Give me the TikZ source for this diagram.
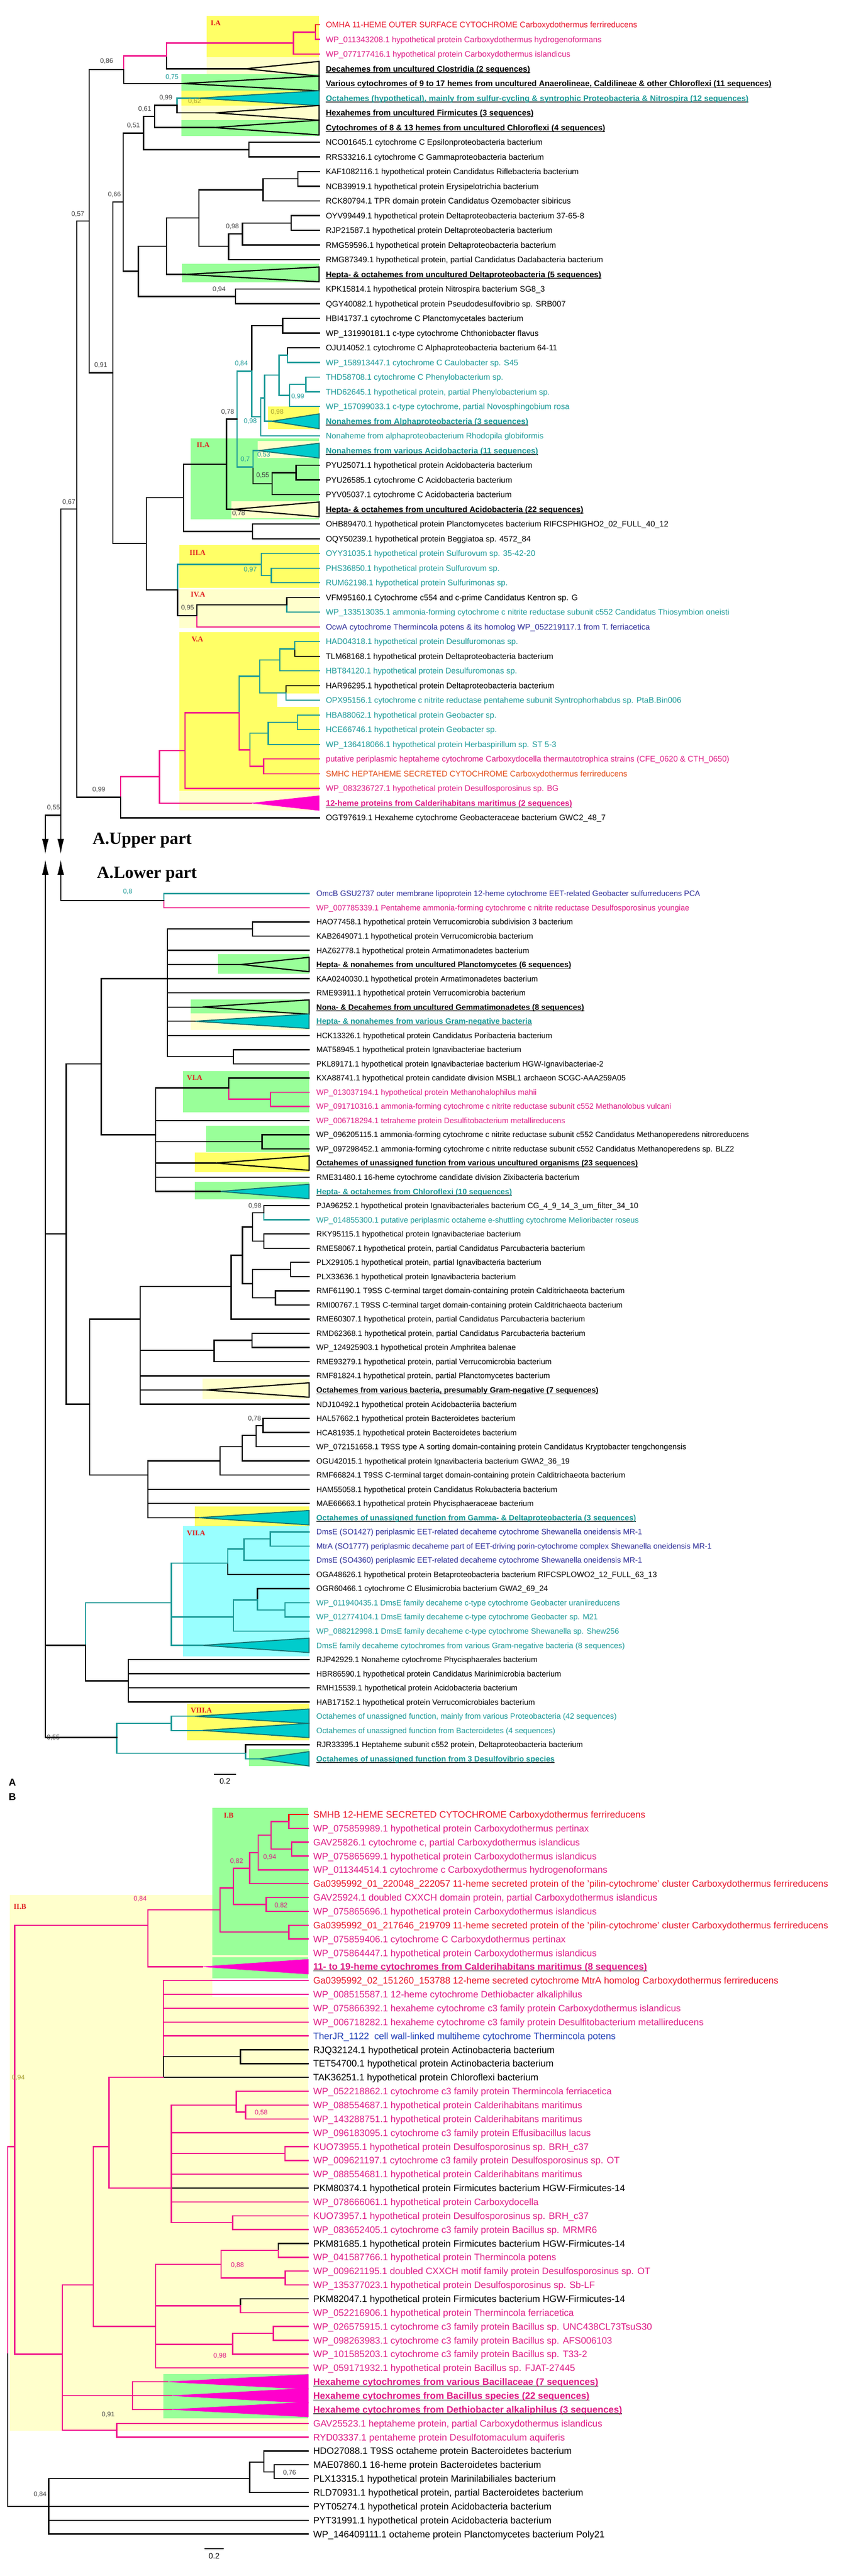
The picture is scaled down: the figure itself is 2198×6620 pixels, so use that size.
\documentclass[tikz,border=0pt]{standalone}
\usepackage{fontspec}
\usetikzlibrary{arrows.meta}
\setmainfont{Liberation Sans}
\newfontfamily\grpfont{Liberation Serif}
\definecolor{cred}{HTML}{E8182E}
\definecolor{cmag}{HTML}{DE1C86}
\definecolor{cteal}{HTML}{1C9A98}
\definecolor{cnavy}{HTML}{2C2C98}
\definecolor{corange}{HTML}{E2501E}
\definecolor{cblue}{HTML}{1E3CB4}
\definecolor{cgrp}{HTML}{E02020}
\definecolor{colive}{HTML}{A8A030}
\definecolor{byel}{HTML}{FFFF66}
\definecolor{bpale}{HTML}{FFFFCC}
\definecolor{bgreen}{HTML}{99FF99}
\definecolor{bcyan}{HTML}{99FFFF}
\definecolor{tteal}{HTML}{00CCCC}
\definecolor{tmag}{HTML}{FF00CC}
\definecolor{lmag}{HTML}{F0148C}
\newcommand\rowU[1]{63.6+(#1-1)*37.74}
\newcommand\rowL[1]{2296.4+(#1-1)*36.45}
\newcommand\rowB[1]{4663+(#1-1)*35.56}
\newcommand\fsU{\fontsize{20.7}{24}\selectfont}
\newcommand\fsL{\fontsize{20}{24}\selectfont}
\newcommand\fsB{\fontsize{24}{28}\selectfont}
\newcommand\ulx[1]{\setbox0\hbox{#1}\rlap{\color{black!75}\rule[-3.4pt]{\wd0}{1.9pt}}\box0}
\newcommand\bu[1]{\bfseries\ulx{#1}}
\newcommand\labU[4]{\coordinate (#1) at (820,{\rowU{#2}});\node[lab,font=\fsU,text=#3] (#1l) at (837,{\rowU{#2}+7.4}) {#4};}
\newcommand\labL[4]{\coordinate (#1) at (794,{\rowL{#2}});\node[lab,font=\fsL,text=#3] (#1l) at (812.6,{\rowL{#2}+7.2}) {#4};}
\newcommand\labB[4]{\coordinate (#1) at (792,{\rowB{#2}});\node[lab,font=\fsB,text=#3] (#1l) at (804.5,{\rowB{#2}+8.6}) {#4};}
\newcommand\nP[3]{\coordinate (#1) at (#2,#3);}
\newcommand\nL[3]{\coordinate (#1) at (#2,{\rowL{#3}});}
\newcommand\nB[3]{\coordinate (#1) at (#2,{\rowB{#3}});}
\newcommand\ed[3][black]{\draw[br,draw=#1] (#2) |- (#3);}
\newcommand\triU[4]{\coordinate (#1) at (#2,{\rowU{#3}});\draw[#4] (#1) -- (820,{\rowU{#3}-19}) -- (820,{\rowU{#3}+19}) -- cycle;}
\newcommand\triL[4]{\coordinate (#1) at (#2,{\rowL{#3}});\draw[#4] (#1) -- (794,{\rowL{#3}-18.5}) -- (794,{\rowL{#3}+18.5}) -- cycle;}
\newcommand\triB[4]{\coordinate (#1) at (#2,{\rowB{#3}});\draw[#4] (#1) -- (792,{\rowB{#3}-19}) -- (792,{\rowB{#3}+19}) -- cycle;}
\newcounter{svc}
\newcommand\sv[4][black!75]{\stepcounter{svc}\node[svs,text=#1] (sv\arabic{svc}) at (#2,#3) {#4};}
\tikzset{
  lab/.style={anchor=base west,inner sep=0pt},
  br/.style={line width=3.2pt,line cap=rect},
  trib/.style={draw=black,line width=3pt,line join=miter},
  trit/.style={fill=tteal,draw=cteal!75!black,line width=2.6pt,line join=miter},
  trim/.style={fill=tmag,draw=tmag,line width=1pt},
  svs/.style={anchor=center,inner sep=0pt,font=\fontsize{17}{19}\selectfont},
  grp/.style={anchor=west,inner sep=0pt,font=\grpfont\bfseries\fontsize{19}{21}\selectfont,text=cgrp},
  arr/.style={line width=3.4pt,-{Latex[length=40pt,width=17pt]}},
}
\begin{document}
\begin{tikzpicture}[x=1pt,y=-1pt]
\useasboundingbox (0,0) rectangle (2198,6620);
\fill[white] (0,0) rectangle (2198,6620);
% ---------- backgrounds upper ----------
\fill[byel] (531,41) rectangle (820,147);
\fill[bpale] (531,147) rectangle (820,191);
\fill[bgreen] (466,191) rectangle (820,233);
\fill[byel] (466,233) rectangle (820,271);
\fill[bpale] (466,271) rectangle (820,308);
\fill[bgreen] (466,308) rectangle (820,350);
\fill[bgreen] (468,678) rectangle (820,726);
\fill[byel] (688,1044) rectangle (820,1103);
\fill[bgreen] (490,1127) rectangle (820,1335);
\fill[bpale] (662,1133) rectangle (820,1177);
\fill[bpale] (595,1288) rectangle (820,1332);
\fill[byel] (461,1401) rectangle (820,1511);
\fill[bpale] (461,1514) rectangle (820,1614);
\fill[byel] (461,1625) rectangle (820,2032);
\fill[white] (712,1782) rectangle (820,1816);
\fill[bpale] (461,2032) rectangle (820,2083);
% ---------- backgrounds lower ----------
\fill[bgreen] (560,2452) rectangle (794,2502);
\fill[bgreen] (490,2568) rectangle (794,2604);
\fill[bpale] (490,2604) rectangle (794,2646);
\fill[bgreen] (470,2752) rectangle (794,2858);
\fill[bgreen] (530,2893) rectangle (794,2961);
\fill[byel] (500,2962) rectangle (794,3012);
\fill[bgreen] (500,3037) rectangle (794,3082);
\fill[bpale] (520,3543) rectangle (794,3596);
\fill[byel] (500,3871) rectangle (794,3921);
\fill[bcyan] (470,3921) rectangle (794,4257);
\fill[byel] (480,4378) rectangle (794,4473);
\fill[bgreen] (640,4495) rectangle (794,4539);
% ---------- backgrounds B ----------
\fill[bpale] (25,4870) rectangle (792,6246);
\fill[white] (545,5084) rectangle (792,5132);
\fill[bgreen] (545,4646) rectangle (792,5025);
\fill[bgreen] (545,5030) rectangle (792,5084);
\fill[bgreen] (420,6101) rectangle (792,6215);
% ---------- group labels ----------
\node[grp] (gIA) at (541,59) {I.A};
\node[grp] (gIIA) at (505,1144) {II.A};
\node[grp] (gIIIA) at (487,1420) {III.A};
\node[grp] (gIVA) at (490,1528) {IV.A};
\node[grp] (gVA) at (492,1643) {V.A};
\node[grp] (gVIA) at (480,2770) {VI.A};
\node[grp] (gVIIA) at (480,3940) {VII.A};
\node[grp] (gVIIIA) at (490,4395) {VIII.A};
\node[grp] (gIB) at (575,4665) {I.B};
\node[grp] (gIIB) at (35,4900) {II.B};
% ---------- upper labels ----------
\labU{u1}{1}{cred}{OMHA 11-HEME OUTER SURFACE CYTOCHROME Carboxydothermus ferrireducens}
\labU{u2}{2}{cmag}{WP\_011343208.1 hypothetical protein Carboxydothermus hydrogenoformans}
\labU{u3}{3}{cmag}{WP\_077177416.1 hypothetical protein Carboxydothermus islandicus}
\labU{u4}{4}{black}{\bu{Decahemes from uncultured Clostridia (2 sequences)}}
\labU{u5}{5}{black}{\bu{Various cytochromes of 9 to 17 hemes from uncultured Anaerolineae, Caldilineae \& other Chloroflexi (11 sequences)}}
\labU{u6}{6}{cteal}{\bu{Octahemes (hypothetical), mainly from sulfur-cycling \& syntrophic Proteobacteria \& Nitrospira (12 sequences)}}
\labU{u7}{7}{black}{\bu{Hexahemes from uncultured Firmicutes (3 sequences)}}
\labU{u8}{8}{black}{\bu{Cytochromes of 8 \& 13 hemes from uncultured Chloroflexi (4 sequences)}}
\labU{u9}{9}{black}{NCO01645.1 cytochrome C Epsilonproteobacteria bacterium}
\labU{u10}{10}{black}{RRS33216.1 cytochrome C Gammaproteobacteria bacterium}
\labU{u11}{11}{black}{KAF1082116.1 hypothetical protein Candidatus Riflebacteria bacterium}
\labU{u12}{12}{black}{NCB39919.1 hypothetical protein Erysipelotrichia bacterium}
\labU{u13}{13}{black}{RCK80794.1 TPR domain protein Candidatus Ozemobacter sibiricus}
\labU{u14}{14}{black}{OYV99449.1 hypothetical protein Deltaproteobacteria bacterium 37-65-8}
\labU{u15}{15}{black}{RJP21587.1 hypothetical protein Deltaproteobacteria bacterium}
\labU{u16}{16}{black}{RMG59596.1 hypothetical protein Deltaproteobacteria bacterium}
\labU{u17}{17}{black}{RMG87349.1 hypothetical protein, partial Candidatus Dadabacteria bacterium}
\labU{u18}{18}{black}{\bu{Hepta- \& octahemes from uncultured Deltaproteobacteria (5 sequences)}}
\labU{u19}{19}{black}{KPK15814.1 hypothetical protein Nitrospira bacterium SG8\_3}
\labU{u20}{20}{black}{QGY40082.1 hypothetical protein Pseudodesulfovibrio sp. SRB007}
\labU{u21}{21}{black}{HBI41737.1 cytochrome C Planctomycetales bacterium}
\labU{u22}{22}{black}{WP\_131990181.1 c-type cytochrome Chthoniobacter flavus}
\labU{u23}{23}{black}{OJU14052.1 cytochrome C Alphaproteobacteria bacterium 64-11}
\labU{u24}{24}{cteal}{WP\_158913447.1 cytochrome C Caulobacter sp. S45}
\labU{u25}{25}{cteal}{THD58708.1 cytochrome C Phenylobacterium sp.}
\labU{u26}{26}{cteal}{THD62645.1 hypothetical protein, partial Phenylobacterium sp.}
\labU{u27}{27}{cteal}{WP\_157099033.1 c-type cytochrome, partial Novosphingobium rosa}
\labU{u28}{28}{cteal}{\bu{Nonahemes from Alphaproteobacteria (3 sequences)}}
\labU{u29}{29}{cteal}{Nonaheme from alphaproteobacterium Rhodopila globiformis}
\labU{u30}{30}{cteal}{\bu{Nonahemes from various Acidobacteria (11 sequences)}}
\labU{u31}{31}{black}{PYU25071.1 hypothetical protein Acidobacteria bacterium}
\labU{u32}{32}{black}{PYU26585.1 cytochrome C Acidobacteria bacterium}
\labU{u33}{33}{black}{PYV05037.1 cytochrome C Acidobacteria bacterium}
\labU{u34}{34}{black}{\bu{Hepta- \& octahemes from uncultured Acidobacteria (22 sequences)}}
\labU{u35}{35}{black}{OHB89470.1 hypothetical protein Planctomycetes bacterium RIFCSPHIGHO2\_02\_FULL\_40\_12}
\labU{u36}{36}{black}{OQY50239.1 hypothetical protein Beggiatoa sp. 4572\_84}
\labU{u37}{37}{cteal}{OYY31035.1 hypothetical protein Sulfurovum sp. 35-42-20}
\labU{u38}{38}{cteal}{PHS36850.1 hypothetical protein Sulfurovum sp.}
\labU{u39}{39}{cteal}{RUM62198.1 hypothetical protein Sulfurimonas sp.}
\labU{u40}{40}{black}{VFM95160.1 Cytochrome c554 and c-prime Candidatus Kentron sp. G}
\labU{u41}{41}{cteal}{WP\_133513035.1 ammonia-forming cytochrome c nitrite reductase subunit c552 Candidatus Thiosymbion oneisti}
\labU{u42}{42}{cnavy}{OcwA cytochrome Thermincola potens \& its homolog WP\_052219117.1 from T. ferriacetica}
\labU{u43}{43}{cteal}{HAD04318.1 hypothetical protein Desulfuromonas sp.}
\labU{u44}{44}{black}{TLM68168.1 hypothetical protein Deltaproteobacteria bacterium}
\labU{u45}{45}{cteal}{HBT84120.1 hypothetical protein Desulfuromonas sp.}
\labU{u46}{46}{black}{HAR96295.1 hypothetical protein Deltaproteobacteria bacterium}
\labU{u47}{47}{cteal}{OPX95156.1 cytochrome c nitrite reductase pentaheme subunit Syntrophorhabdus sp. PtaB.Bin006}
\labU{u48}{48}{cteal}{HBA88062.1 hypothetical protein Geobacter sp.}
\labU{u49}{49}{cteal}{HCE66746.1 hypothetical protein Geobacter sp.}
\labU{u50}{50}{cteal}{WP\_136418066.1 hypothetical protein Herbaspirillum sp. ST 5-3}
\labU{u51}{51}{cmag}{putative periplasmic heptaheme cytochrome Carboxydocella thermautotrophica strains (CFE\_0620 \& CTH\_0650)}
\labU{u52}{52}{corange}{SMHC HEPTAHEME SECRETED CYTOCHROME Carboxydothermus ferrireducens}
\labU{u53}{53}{cmag}{WP\_083236727.1 hypothetical protein Desulfosporosinus sp. BG}
\labU{u54}{54}{cmag}{\bu{12-heme proteins from Calderihabitans maritimus (2 sequences)}}
\labU{u55}{55}{black}{OGT97619.1 Hexaheme cytochrome Geobacteraceae bacterium GWC2\_48\_7}
% ---------- upper tree ----------
\nP{ia1}{810}{82.5}\ed[cred]{ia1}{u1}\ed[lmag]{ia1}{u2}
\nP{ia2}{754}{110.8}\ed[lmag]{ia2}{ia1}\ed[lmag]{ia2}{u3}
\triU{t4}{630}{4}{trib}\triU{t5}{470}{5}{trib}\triU{t6}{508}{6}{trit}
\triU{t7}{553}{7}{trib}\triU{t8}{550}{8}{trib}
\nP{N1}{428}{143.8}\ed[lmag]{N1}{ia2}\ed{N1}{t4}
\nP{N2}{317.6}{179}\ed[lmag]{N2}{N1}\ed{N2}{t5}
\nP{N8}{455}{271}\ed[cteal]{N8}{t6}\ed{N8}{t7}
\nP{N7}{397}{299.6}\ed{N7}{N8}\ed{N7}{t8}
\nP{d1}{639.5}{384.4}\ed{d1}{u9}\ed{d1}{u10}
\nP{N6}{369}{342}\ed{N6}{N7}\ed{N6}{d1}
\nP{d2}{765}{459.8}\ed{d2}{u11}\ed{d2}{u12}
\nP{d3}{676}{488}\ed{d3}{d2}\ed{d3}{u13}
\nP{e1}{748}{573}\ed{e1}{u14}\ed{e1}{u15}
\nP{e2}{623}{601}\ed{e2}{e1}\ed{e2}{u16}
\nP{e3}{587}{633}\ed{e3}{e2}\ed{e3}{u17}
\nP{N11}{511}{560}\ed{N11}{d3}\ed{N11}{e3}
\triU{t18}{476}{18}{trib}
\nP{N10}{427.7}{633}\ed{N10}{N11}\ed{N10}{t18}
\nP{e5}{605}{761.8}\ed{e5}{u19}\ed{e5}{u20}
\nP{N9}{355.7}{697}\ed{N9}{N10}\ed{N9}{e5}
\nP{N5}{316.6}{519}\ed{N5}{N6}\ed{N5}{N9}
\nP{h1}{726}{837}\ed{h1}{u21}\ed{h1}{u22}
\nP{h2}{739}{912.7}\ed{h2}{u23}\ed[cteal]{h2}{u24}
\nP{h3}{786}{988}\ed[cteal]{h3}{u25}\ed[cteal]{h3}{u26}
\nP{h4}{744}{1016}\ed[cteal]{h4}{h3}\ed[cteal]{h4}{u27}
\nP{T5}{717}{964}\ed[cteal]{T5}{h2}\ed[cteal]{T5}{h4}
\triU{t28}{698}{28}{trit}
\nP{T4}{680}{1023}\ed[cteal]{T4}{T5}\ed[cteal]{T4}{t28}
\nP{T3}{670}{1071}\ed[cteal]{T3}{T4}\ed[cteal]{T3}{u29}
\nP{T2}{647}{954}\ed{T2}{h1}\ed[cteal]{T2}{T3}
\triU{t30}{664}{30}{trit}
\nP{i1}{760.5}{1214.6}\ed{i1}{u31}\ed{i1}{u32}
\nP{i2}{699}{1243}\ed{i2}{i1}\ed{i2}{u33}
\nP{T6}{650}{1200}\ed[cteal]{T6}{t30}\ed{T6}{i2}
\nP{T1}{608.8}{1077}\ed[cteal]{T1}{T2}\ed[cteal]{T1}{T6}
\triU{t34}{598}{34}{trib}
\nP{N14}{582}{1193}\ed{N14}{T1}\ed{N14}{t34}
\nP{j1}{649}{1365.6}\ed{j1}{u35}\ed{j1}{u36}
\nP{N13}{471}{1279}\ed{N13}{N14}\ed{N13}{j1}
\nP{k1}{697}{1478.8}\ed[cteal]{k1}{u38}\ed[cteal]{k1}{u39}
\nP{k2}{671}{1450.5}\ed[cteal]{k2}{u37}\ed[cteal]{k2}{k1}
\nP{m1}{737}{1554}\ed{m1}{u40}\ed[cteal]{m1}{u41}
\nP{N16}{505.6}{1582}\ed{N16}{m1}\ed[lmag]{N16}{u42}
\nP{N15}{456}{1516}\ed[cteal]{N15}{k2}\ed{N15}{N16}
\nP{N12}{376}{1397}\ed{N12}{N13}\ed{N12}{N15}
\nP{N4}{289.6}{958}\ed{N4}{N5}\ed{N4}{N12}
\nP{N3}{229}{568}\ed{N3}{N2}\ed{N3}{N4}
\nP{v1}{757}{1667.5}\ed[cteal]{v1}{u43}\ed{v1}{u44}
\nP{v2}{719}{1696}\ed[cteal]{v2}{v1}\ed[cteal]{v2}{u45}
\nP{v3}{735}{1780.8}\ed{v3}{u46}\ed[cteal]{v3}{u47}
\nP{v4}{667}{1738}\ed[cteal]{v4}{v2}\ed[cteal]{v4}{v3}
\nP{v6}{764}{1856}\ed[cteal]{v6}{u48}\ed[cteal]{v6}{u49}
\nP{v7}{689}{1884}\ed[cteal]{v7}{v6}\ed[cteal]{v7}{u50}
\nP{v9}{677}{1969.5}\ed[lmag]{v9}{u51}\ed[lmag]{v9}{u52}
\nP{v8}{642}{1926.8}\ed[cteal]{v8}{v7}\ed[lmag]{v8}{v9}
\nP{v5}{614}{1832}\ed[cteal]{v5}{v4}\ed[lmag]{v5}{v8}
\nP{N20}{475.4}{1929}\ed[lmag]{N20}{v5}\ed[lmag]{N20}{u53}
\triU{t54}{646}{54}{trim}
\nP{N19}{410}{1996}\ed[lmag]{N19}{N20}\ed[lmag]{N19}{t54}
\nP{N18}{309.7}{2049}\ed[lmag]{N18}{N19}\ed{N18}{u55}
\nP{N17}{197}{1308}\ed{N17}{N3}\ed{N17}{N18}
% root and arrows
\nP{R1}{156}{1308}\nP{R1e}{156}{2196}\nP{R0}{116.5}{2095}\nP{R0e}{116.5}{2196}
\draw[br] (R1) -- (N17);
\draw[br] (R0) -- (156,2095);
\draw[arr] (R1) -- (R1e);
\draw[arr] (R0) -- (R0e);
\nP{R1s}{156}{2300}\nP{R1t}{156}{2208}\nP{R0s}{116.5}{2300}\nP{R0t}{116.5}{2208}
\draw[arr] (R1s) -- (R1t);
\draw[arr] (R0s) -- (R0t);
% support values upper
\sv{274}{158}{0,86}\sv[cteal]{442}{198}{0,75}\sv{426}{252}{0,99}\sv[colive]{500}{261}{0,62}
\sv{372}{280}{0,61}\sv{343}{323}{0,51}\sv{294}{500}{0,66}\sv{200}{551}{0,57}
\sv{597}{582}{0,98}\sv{563}{744}{0,94}\sv[cteal]{620}{934}{0,84}\sv[cteal]{765}{1019}{0,99}
\sv[colive]{712}{1059}{0,98}\sv{585}{1059}{0,78}\sv[cteal]{643}{1083}{0,98}\sv[cteal]{630}{1181}{0,7}
\sv[cteal]{677.6}{1169}{0,53}\sv{675}{1222}{0,55}\sv{613}{1320}{0,78}\sv{259}{939}{0,91}
\sv{177}{1291}{0,67}\sv[cteal]{643}{1464}{0,97}\sv{482}{1562}{0,95}\sv{254}{2029}{0,99}\sv{137.6}{2076}{0,55}
% ---------- part titles ----------
\node[anchor=west,inner sep=0pt,font=\grpfont\bfseries\fontsize{44}{48}\selectfont] (tUp) at (238,2160) {A.Upper part};
\node[anchor=west,inner sep=0pt,font=\grpfont\bfseries\fontsize{44}{48}\selectfont] (tLo) at (249,2247) {A.Lower part};
% ---------- lower labels ----------
\labL{l1}{1}{cnavy}{OmcB GSU2737 outer membrane lipoprotein 12-heme cytochrome EET-related Geobacter sulfurreducens PCA}
\labL{l2}{2}{cmag}{WP\_007785339.1 Pentaheme ammonia-forming cytochrome c nitrite reductase Desulfosporosinus youngiae}
\labL{l3}{3}{black}{HAO77458.1 hypothetical protein Verrucomicrobia subdivision 3 bacterium}
\labL{l4}{4}{black}{KAB2649071.1 hypothetical protein Verrucomicrobia bacterium}
\labL{l5}{5}{black}{HAZ62778.1 hypothetical protein Armatimonadetes bacterium}
\labL{l6}{6}{black}{\bu{Hepta- \& nonahemes from uncultured Planctomycetes (6 sequences)}}
\labL{l7}{7}{black}{KAA0240030.1 hypothetical protein Armatimonadetes bacterium}
\labL{l8}{8}{black}{RME93911.1 hypothetical protein Verrucomicrobia bacterium}
\labL{l9}{9}{black}{\bu{Nona- \& Decahemes from uncultured Gemmatimonadetes (8 sequences)}}
\labL{l10}{10}{cteal}{\bu{Hepta- \& nonahemes from various Gram-negative bacteria}}
\labL{l11}{11}{black}{HCK13326.1 hypothetical protein Candidatus Poribacteria bacterium}
\labL{l12}{12}{black}{MAT58945.1 hypothetical protein Ignavibacteriae bacterium}
\labL{l13}{13}{black}{PKL89171.1 hypothetical protein Ignavibacteriae bacterium HGW-Ignavibacteriae-2}
\labL{l14}{14}{black}{KXA88741.1 hypothetical protein candidate division MSBL1 archaeon SCGC-AAA259A05}
\labL{l15}{15}{cmag}{WP\_013037194.1 hypothetical protein Methanohalophilus mahii}
\labL{l16}{16}{cmag}{WP\_091710316.1 ammonia-forming cytochrome c nitrite reductase subunit c552 Methanolobus vulcani}
\labL{l17}{17}{cmag}{WP\_006718294.1 tetraheme protein Desulfitobacterium metallireducens}
\labL{l18}{18}{black}{WP\_096205115.1 ammonia-forming cytochrome c nitrite reductase subunit c552 Candidatus Methanoperedens nitroreducens}
\labL{l19}{19}{black}{WP\_097298452.1 ammonia-forming cytochrome c nitrite reductase subunit c552 Candidatus Methanoperedens sp. BLZ2}
\labL{l20}{20}{black}{\bu{Octahemes of unassigned function from various uncultured organisms (23 sequences)}}
\labL{l21}{21}{black}{RME31480.1 16-heme cytochrome candidate division Zixibacteria bacterium}
\labL{l22}{22}{cteal}{\bu{Hepta- \& octahemes from Chloroflexi (10 sequences)}}
\labL{l23}{23}{black}{PJA96252.1 hypothetical protein Ignavibacteriales bacterium CG\_4\_9\_14\_3\_um\_filter\_34\_10}
\labL{l24}{24}{cteal}{WP\_014855300.1 putative periplasmic octaheme e-shuttling cytochrome Melioribacter roseus}
\labL{l25}{25}{black}{RKY95115.1 hypothetical protein Ignavibacteriae bacterium}
\labL{l26}{26}{black}{RME58067.1 hypothetical protein, partial Candidatus Parcubacteria bacterium}
\labL{l27}{27}{black}{PLX29105.1 hypothetical protein, partial Ignavibacteria bacterium}
\labL{l28}{28}{black}{PLX33636.1 hypothetical protein Ignavibacteria bacterium}
\labL{l29}{29}{black}{RMF61190.1 T9SS C-terminal target domain-containing protein Calditrichaeota bacterium}
\labL{l30}{30}{black}{RMI00767.1 T9SS C-terminal target domain-containing protein Calditrichaeota bacterium}
\labL{l31}{31}{black}{RME60307.1 hypothetical protein, partial Candidatus Parcubacteria bacterium}
\labL{l32}{32}{black}{RMD62368.1 hypothetical protein, partial Candidatus Parcubacteria bacterium}
\labL{l33}{33}{black}{WP\_124925903.1 hypothetical protein Amphritea balenae}
\labL{l34}{34}{black}{RME93279.1 hypothetical protein, partial Verrucomicrobia bacterium}
\labL{l35}{35}{black}{RMF81824.1 hypothetical protein, partial Planctomycetes bacterium}
\labL{l36}{36}{black}{\bu{Octahemes from various bacteria, presumably Gram-negative (7 sequences)}}
\labL{l37}{37}{black}{NDJ10492.1 hypothetical protein Acidobacteriia bacterium}
\labL{l38}{38}{black}{HAL57662.1 hypothetical protein Bacteroidetes bacterium}
\labL{l39}{39}{black}{HCA81935.1 hypothetical protein Bacteroidetes bacterium}
\labL{l40}{40}{black}{WP\_072151658.1 T9SS type A sorting domain-containing protein Candidatus Kryptobacter tengchongensis}
\labL{l41}{41}{black}{OGU42015.1 hypothetical protein Ignavibacteria bacterium GWA2\_36\_19}
\labL{l42}{42}{black}{RMF66824.1 T9SS C-terminal target domain-containing protein Calditrichaeota bacterium}
\labL{l43}{43}{black}{HAM55058.1 hypothetical protein Candidatus Rokubacteria bacterium}
\labL{l44}{44}{black}{MAE66663.1 hypothetical protein Phycisphaeraceae bacterium}
\labL{l45}{45}{cteal}{\bu{Octahemes of unassigned function from Gamma- \& Deltaproteobacteria (3 sequences)}}
\labL{l46}{46}{cnavy}{DmsE (SO1427) periplasmic EET-related decaheme cytochrome Shewanella oneidensis MR-1}
\labL{l47}{47}{cnavy}{MtrA (SO1777) periplasmic decaheme part of EET-driving porin-cytochrome complex Shewanella oneidensis MR-1}
\labL{l48}{48}{cnavy}{DmsE (SO4360) periplasmic EET-related decaheme cytochrome Shewanella oneidensis MR-1}
\labL{l49}{49}{black}{OGA48626.1 hypothetical protein Betaproteobacteria bacterium RIFCSPLOWO2\_12\_FULL\_63\_13}
\labL{l50}{50}{black}{OGR60466.1 cytochrome C Elusimicrobia bacterium GWA2\_69\_24}
\labL{l51}{51}{cteal}{WP\_011940435.1 DmsE family decaheme c-type cytochrome Geobacter uraniireducens}
\labL{l52}{52}{cteal}{WP\_012774104.1 DmsE family decaheme c-type cytochrome Geobacter sp. M21}
\labL{l53}{53}{cteal}{WP\_088212998.1 DmsE family decaheme c-type cytochrome Shewanella sp. Shew256}
\labL{l54}{54}{cteal}{DmsE family decaheme cytochromes from various Gram-negative bacteria (8 sequences)}
\labL{l55}{55}{black}{RJP42929.1 Nonaheme cytochrome Phycisphaerales bacterium}
\labL{l56}{56}{black}{HBR86590.1 hypothetical protein Candidatus Marinimicrobia bacterium}
\labL{l57}{57}{black}{RMH15539.1 hypothetical protein Acidobacteria bacterium}
\labL{l58}{58}{black}{HAB17152.1 hypothetical protein Verrucomicrobiales bacterium}
\labL{l59}{59}{cteal}{Octahemes of unassigned function, mainly from various Proteobacteria (42 sequences)}
\labL{l60}{60}{cteal}{Octahemes of unassigned function from Bacteroidetes (4 sequences)}
\labL{l61}{61}{black}{RJR33395.1 Heptaheme subunit c552 protein, Deltaproteobacteria bacterium}
\labL{l62}{62}{cteal}{\bu{Octahemes of unassigned function from 3 Desulfovibrio species}}
% ---------- lower tree ----------
\nL{pl12}{421}{1.5}\ed[cteal]{pl12}{l1}\ed[lmag]{pl12}{l2}
\draw[br] (R1s) |- (pl12);
\sv[cteal]{328}{2291}{0,8}
\nL{p34}{649}{3.5}\ed{p34}{l3}\ed{p34}{l4}
\triL{tl6}{620}{6}{trib}\triL{tl9}{520}{9}{trib}\triL{tl10}{500}{10}{trit}
\nL{p1213}{600}{12.5}\ed{p1213}{l12}\ed{p1213}{l13}
\nL{p1516}{695}{15.5}\ed[lmag]{p1516}{l15}\ed[lmag]{p1516}{l16}
\nL{p1416}{588}{14.7}\ed{p1416}{l14}\ed[lmag]{p1416}{p1516}
\nL{p1819}{673}{18.5}\ed{p1819}{l18}\ed{p1819}{l19}
\triL{tl20}{555}{20}{trib}\triL{tl22}{565}{22}{trit}
\nL{p2324}{678}{23.5}\ed{p2324}{l23}\ed[cteal]{p2324}{l24}
\nL{p2526}{678}{25.5}\ed{p2526}{l25}\ed{p2526}{l26}
\nL{p2326}{649}{24.5}\ed{p2326}{p2324}\ed{p2326}{p2526}
\nL{p2728}{746.5}{27.5}\ed{p2728}{l27}\ed{p2728}{l28}
\nL{p2930}{707.7}{29.5}\ed{p2930}{l29}\ed{p2930}{l30}
\nL{p2730}{649}{28.5}\ed{p2730}{p2728}\ed{p2730}{p2930}
\nL{p2331}{623}{26.5}\ed{p2331}{p2326}\ed{p2331}{p2730}
\nL{p2331b}{594}{28.7}\ed{p2331b}{p2331}\ed{p2331b}{l31}
\nL{p3233}{647.5}{32.5}\ed{p3233}{l32}\ed{p3233}{l33}
\nL{p3234}{550}{33.2}\ed{p3234}{p3233}\ed{p3234}{l34}
\triL{tl36}{530}{36}{trib}
\nL{p3839}{676}{38.5}\ed{p3839}{l38}\ed{p3839}{l39}
\nL{p3840}{658}{39.2}\ed{p3840}{p3839}\ed{p3840}{l40}
\nL{p3841}{622}{40}\ed{p3841}{p3840}\ed{p3841}{l41}
\nL{p3842}{565}{41}\ed{p3842}{p3841}\ed{p3842}{l42}
\sv{655}{3099}{0,98}\sv{654}{3646}{0,78}
\triL{tl45}{510}{45}{trit}
\nL{p4647}{694.5}{46.5}\ed[cteal]{p4647}{l46}\ed[cteal]{p4647}{l47}
\nL{p4648}{627}{47.2}\ed[cteal]{p4648}{p4647}\ed[cteal]{p4648}{l48}
\nL{p4649}{585}{48.2}\ed[cteal]{p4649}{p4648}\ed{p4649}{l49}
\nL{p5152}{732}{51.5}\ed[cteal]{p5152}{l51}\ed[cteal]{p5152}{l52}
\nL{p5052}{661.5}{50.8}\ed{p5052}{l50}\ed[cteal]{p5052}{p5152}
\nL{p5053}{600}{52}\ed[cteal]{p5053}{p5052}\ed[cteal]{p5053}{l53}
\triL{tl54}{520}{54}{trit}
\triL{tl59}{500}{59}{trit}\triL{tl60}{520}{60}{trit}
\triL{tl62}{667}{62}{trit}
\nL{p6162}{631}{61.6}\ed{p6162}{l61}\ed[cteal]{p6162}{tl62}
\nL{q1}{430}{7}\foreach \c in {p34,l5,tl6,l7,l8,tl9,tl10,l11,p1213}{\ed{q1}{\c}}
\nL{q2}{400}{18}\foreach \c in {p1416,l17,p1819,tl20,l21,tl22}{\ed{q2}{\c}}
\nL{q3}{360}{31}\foreach \c in {p2331b,p3234,l35,tl36,l37}{\ed{q3}{\c}}
\nL{q4}{380}{42}\foreach \c in {p3842,l43,l44,tl45}{\ed{q4}{\c}}
\nL{q5}{440}{51}\ed[cteal]{q5}{p4649}\ed[cteal]{q5}{p5053}\ed[cteal]{q5}{tl54}
\nL{q6}{440}{59.5}\ed[cteal]{q6}{tl59}\ed[cteal]{q6}{tl60}
\nL{q7}{330}{56.5}\foreach \c in {l55,l56,l57,l58}{\ed{q7}{\c}}
\nL{q8}{260}{13}\ed{q8}{q1}\ed{q8}{q2}
\nL{q9}{230}{37}\ed{q9}{q3}\ed{q9}{q4}
\nL{qX}{170}{25}\ed{qX}{q8}\ed{qX}{q9}
\nL{q10}{220}{54}\ed[cteal]{q10}{q5}\ed{q10}{q7}
\nL{qZ}{300}{60.5}\ed[cteal]{qZ}{q6}\ed[cteal]{qZ}{p6162}
\nL{q12}{116.5}{25}
\draw[br] (R0s) -- (q12);
\draw[br] (q12) -- (qX);
\ed{q12}{q10}\ed{q12}{qZ}
\sv{137}{4465}{0,55}
\draw[line width=3pt] (550,4560) -- (606,4560);
\node[anchor=north,inner sep=0pt,font=\fontsize{20}{22}\selectfont] (sc1) at (578,4570) {0.2};
\node[anchor=west,inner sep=0pt,font=\bfseries\fontsize{26}{28}\selectfont] (pA) at (22,4580) {A};
% ---------- B labels ----------
\node[anchor=west,inner sep=0pt,font=\bfseries\fontsize{26}{28}\selectfont] (pB) at (22,4618) {B};
\labB{b1}{1}{cred}{SMHB 12-HEME SECRETED CYTOCHROME Carboxydothermus ferrireducens}
\labB{b2}{2}{cmag}{WP\_075859989.1 hypothetical protein Carboxydothermus pertinax}
\labB{b3}{3}{cmag}{GAV25826.1 cytochrome c, partial Carboxydothermus islandicus}
\labB{b4}{4}{cmag}{WP\_075865699.1 hypothetical protein Carboxydothermus islandicus}
\labB{b5}{5}{cmag}{WP\_011344514.1 cytochrome c Carboxydothermus hydrogenoformans}
\labB{b6}{6}{cred}{Ga0395992\_01\_220048\_222057 11-heme secreted protein of the 'pilin-cytochrome' cluster Carboxydothermus ferrireducens}
\labB{b7}{7}{cmag}{GAV25924.1 doubled CXXCH domain protein, partial Carboxydothermus islandicus}
\labB{b8}{8}{cmag}{WP\_075865696.1 hypothetical protein Carboxydothermus islandicus}
\labB{b9}{9}{cred}{Ga0395992\_01\_217646\_219709 11-heme secreted protein of the 'pilin-cytochrome' cluster Carboxydothermus ferrireducens}
\labB{b10}{10}{cmag}{WP\_075859406.1 cytochrome C Carboxydothermus pertinax}
\labB{b11}{11}{cmag}{WP\_075864447.1 hypothetical protein Carboxydothermus islandicus}
\labB{b12}{12}{cmag}{\bu{11- to 19-heme cytochromes from Calderihabitans maritimus (8 sequences)}}
\labB{b13}{13}{cred}{Ga0395992\_02\_151260\_153788 12-heme secreted cytochrome MtrA homolog Carboxydothermus ferrireducens}
\labB{b14}{14}{cmag}{WP\_008515587.1 12-heme cytochrome Dethiobacter alkaliphilus}
\labB{b15}{15}{cmag}{WP\_075866392.1 hexaheme cytochrome c3 family protein Carboxydothermus islandicus}
\labB{b16}{16}{cmag}{WP\_006718282.1 hexaheme cytochrome c3 family protein Desulfitobacterium metallireducens}
\labB{b17}{17}{cblue}{TherJR\_1122\ \ cell wall-linked multiheme cytochrome Thermincola potens}
\labB{b18}{18}{black}{RJQ32124.1 hypothetical protein Actinobacteria bacterium}
\labB{b19}{19}{black}{TET54700.1 hypothetical protein Actinobacteria bacterium}
\labB{b20}{20}{black}{TAK36251.1 hypothetical protein Chloroflexi bacterium}
\labB{b21}{21}{cmag}{WP\_052218862.1 cytochrome c3 family protein Thermincola ferriacetica}
\labB{b22}{22}{cmag}{WP\_088554687.1 hypothetical protein Calderihabitans maritimus}
\labB{b23}{23}{cmag}{WP\_143288751.1 hypothetical protein Calderihabitans maritimus}
\labB{b24}{24}{cmag}{WP\_096183095.1 cytochrome c3 family protein Effusibacillus lacus}
\labB{b25}{25}{cmag}{KUO73955.1 hypothetical protein Desulfosporosinus sp. BRH\_c37}
\labB{b26}{26}{cmag}{WP\_009621197.1 cytochrome c3 family protein Desulfosporosinus sp. OT}
\labB{b27}{27}{cmag}{WP\_088554681.1 hypothetical protein Calderihabitans maritimus}
\labB{b28}{28}{black}{PKM80374.1 hypothetical protein Firmicutes bacterium HGW-Firmicutes-14}
\labB{b29}{29}{cmag}{WP\_078666061.1 hypothetical protein Carboxydocella}
\labB{b30}{30}{cmag}{KUO73957.1 hypothetical protein Desulfosporosinus sp. BRH\_c37}
\labB{b31}{31}{cmag}{WP\_083652405.1 cytochrome c3 family protein Bacillus sp. MRMR6}
\labB{b32}{32}{black}{PKM81685.1 hypothetical protein Firmicutes bacterium HGW-Firmicutes-14}
\labB{b33}{33}{cmag}{WP\_041587766.1 hypothetical protein Thermincola potens}
\labB{b34}{34}{cmag}{WP\_009621195.1 doubled CXXCH motif family protein Desulfosporosinus sp. OT}
\labB{b35}{35}{cmag}{WP\_135377023.1 hypothetical protein Desulfosporosinus sp. Sb-LF}
\labB{b36}{36}{black}{PKM82047.1 hypothetical protein Firmicutes bacterium HGW-Firmicutes-14}
\labB{b37}{37}{cmag}{WP\_052216906.1 hypothetical protein Thermincola ferriacetica}
\labB{b38}{38}{cmag}{WP\_026575915.1 cytochrome c3 family protein Bacillus sp. UNC438CL73TsuS30}
\labB{b39}{39}{cmag}{WP\_098263983.1 cytochrome c3 family protein Bacillus sp. AFS006103}
\labB{b40}{40}{cmag}{WP\_101585203.1 cytochrome c3 family protein Bacillus sp. T33-2}
\labB{b41}{41}{cmag}{WP\_059171932.1 hypothetical protein Bacillus sp. FJAT-27445}
\labB{b42}{42}{cmag}{\bu{Hexaheme cytochromes from various Bacillaceae (7 sequences)}}
\labB{b43}{43}{cmag}{\bu{Hexaheme cytochromes from Bacillus species (22 sequences)}}
\labB{b44}{44}{cmag}{\bu{Hexaheme cytochromes from Dethiobacter alkaliphilus (3 sequences)}}
\labB{b45}{45}{cmag}{GAV25523.1 heptaheme protein, partial Carboxydothermus islandicus}
\labB{b46}{46}{cmag}{RYD03337.1 pentaheme protein Desulfotomaculum aquiferis}
\labB{b47}{47}{black}{HDO27088.1 T9SS octaheme protein Bacteroidetes bacterium}
\labB{b48}{48}{black}{MAE07860.1 16-heme protein Bacteroidetes bacterium}
\labB{b49}{49}{black}{PLX13315.1 hypothetical protein Marinilabiliales bacterium}
\labB{b50}{50}{black}{RLD70931.1 hypothetical protein, partial Bacteroidetes bacterium}
\labB{b51}{51}{black}{PYT05274.1 hypothetical protein Acidobacteria bacterium}
\labB{b52}{52}{black}{PYT31991.1 hypothetical protein Acidobacteria bacterium}
\labB{b53}{53}{black}{WP\_146409111.1 octaheme protein Planctomycetes bacterium Poly21}
% ---------- B tree ----------
\nB{s12}{742}{1.5}\ed[red]{s12}{b1}\ed[lmag]{s12}{b2}
\nB{s34}{749.5}{3.5}\ed[lmag]{s34}{b3}\ed[lmag]{s34}{b4}
\nB{s14}{696.7}{2.5}\ed[lmag]{s14}{s12}\ed[lmag]{s14}{s34}
\nB{s15}{663.7}{3.75}\ed[lmag]{s15}{s14}\ed[lmag]{s15}{b5}
\nB{s16}{641.7}{4.9}\ed[lmag]{s16}{s15}\ed[lmag]{s16}{b6}
\nB{s78}{684}{7.5}\ed[lmag]{s78}{b7}\ed[lmag]{s78}{b8}
\nB{s18}{600}{6.3}\ed[lmag]{s18}{s16}\ed[lmag]{s18}{s78}
\nB{s910}{742}{9.5}\ed[lmag]{s910}{b9}\ed[lmag]{s910}{b10}
\nB{s110}{565}{7.9}\ed[lmag]{s110}{s18}\ed[lmag]{s110}{s910}
\sv[cmag]{608}{4783}{0,82}\sv[cmag]{693}{4773}{0,94}\sv[cmag]{722}{4897}{0,82}
\triB{tb12}{520}{12}{trim}
\nB{s1819}{617.5}{18.5}\ed{s1819}{b18}\ed{s1819}{b19}
\nB{s2223}{630.7}{22.5}\ed[lmag]{s2223}{b22}\ed[lmag]{s2223}{b23}
\nB{s2123}{607}{22}\ed[lmag]{s2123}{b21}\ed[lmag]{s2123}{s2223}
\sv[cmag]{671}{5430}{0,58}
\nB{s2526}{732}{25.5}\ed[lmag]{s2526}{b25}\ed[lmag]{s2526}{b26}
\nB{s3031}{597.7}{30.5}\ed[lmag]{s3031}{b30}\ed[lmag]{s3031}{b31}
\nB{s3233}{715}{32.5}\ed{s3233}{b32}\ed[lmag]{s3233}{b33}
\nB{s3435}{733}{34.5}\ed[lmag]{s3435}{b34}\ed[lmag]{s3435}{b35}
\nB{s3235}{568}{33.5}\ed[lmag]{s3235}{s3233}\ed[lmag]{s3235}{s3435}
\sv[cmag]{610}{5821}{0,88}
\nB{s3637}{617.5}{36.5}\ed{s3637}{b36}\ed[lmag]{s3637}{b37}
\nB{s3839}{702.5}{38.5}\ed[lmag]{s3839}{b38}\ed[lmag]{s3839}{b39}
\nB{s3840}{597.7}{39.3}\ed[lmag]{s3840}{s3839}\ed[lmag]{s3840}{b40}
\sv[cmag]{565}{6055}{0,98}
\triB{tb42}{430}{42}{trim}\triB{tb43}{440}{43}{trim}\triB{tb44}{440}{44}{trim}
\nB{s4546}{300}{45.5}\ed[lmag]{s4546}{b45}\ed[lmag]{s4546}{b46}
\sv{278}{6205}{0,91}
\nB{s4849}{704}{48.5}\ed{s4849}{b48}\ed{s4849}{b49}
\nB{s4749}{678}{47.8}\ed{s4749}{b47}\ed{s4749}{s4849}
\nB{s4750}{641.7}{49}\ed{s4750}{s4749}\ed{s4750}{b50}
\sv{744}{6355}{0,76}
\nB{sA}{380}{9}\ed[lmag]{sA}{s110}\ed[lmag]{sA}{tb12}
\sv[cmag]{360}{4880}{0,84}
\nB{sB}{420}{20}\foreach \c in {b13,b14,b15,b16,b17}{\ed[lmag]{sB}{\c}}\ed{sB}{s1819}\ed{sB}{b20}
\nB{sC}{440}{28}\foreach \c in {s2123,b24,s2526,b27,b29,s3031}{\ed[lmag]{sC}{\c}}\ed{sC}{b28}
\nB{sD}{400}{38}\foreach \c in {s3235,s3637,s3840,b41}{\ed[lmag]{sD}{\c}}
\nB{sE}{340}{43}\foreach \c in {tb42,tb43,tb44}{\ed[lmag]{sE}{\c}}
\nB{sF}{280}{25}\ed[lmag]{sF}{sB}\ed[lmag]{sF}{sC}
\nB{sG}{240}{35}\ed[lmag]{sG}{sF}\ed[lmag]{sG}{sD}
\nB{sH}{160}{40}\ed[lmag]{sH}{sG}\ed[lmag]{sH}{sE}\ed[lmag]{sH}{s4546}
\nB{sI}{38}{25}\ed[lmag]{sI}{sA}\ed[lmag]{sI}{sH}
\sv[colive]{47}{5340}{0,94}
\nB{sJ}{125}{51}\ed{sJ}{s4750}\ed{sJ}{b51}\ed{sJ}{b52}\ed{sJ}{b53}
\sv{103}{6410}{0,84}
\nB{sroot}{20}{40}\ed[lmag]{sroot}{sI}\ed{sroot}{sJ}
\draw[line width=3pt] (525,6550) -- (575,6550);
\node[anchor=north,inner sep=0pt,font=\fontsize{20}{22}\selectfont] (sc2) at (550,6562) {0.2};
\end{tikzpicture}
\end{document}
